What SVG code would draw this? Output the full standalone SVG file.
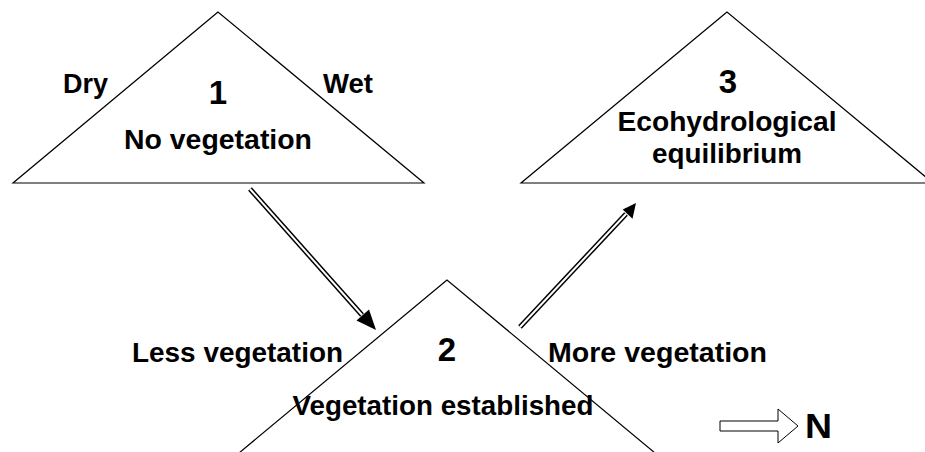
<svg xmlns="http://www.w3.org/2000/svg" width="925" height="452" viewBox="0 0 925 452">
  <style>
    .tri { fill: #fff; stroke: #000; stroke-width: 1.2; stroke-linejoin: miter; }
    .lbl { font-family: "Liberation Sans", Arial, sans-serif; font-weight: bold; font-size: 27px; fill: #000; }
    .num { font-family: "Liberation Sans", Arial, sans-serif; font-weight: bold; font-size: 33px; fill: #000; text-anchor: middle; }
    .mid { text-anchor: middle; }
    .dbl-outer { stroke: #000; stroke-width: 5; fill: none; }
    .dbl-inner { stroke: #fff; stroke-width: 2; fill: none; }
    .head { fill: #000; stroke: none; }
  </style>
  <rect x="0" y="0" width="925" height="452" fill="#fff"/>

  <!-- State 1 -->
  <g id="node-1">
    <polygon class="tri" points="218,12 13,183 424,183"/>
    <text class="num" x="218" y="104">1</text>
    <text class="lbl mid" x="218" y="149" textLength="188" lengthAdjust="spacingAndGlyphs">No vegetation</text>
    <text class="lbl" x="63" y="93" textLength="45" lengthAdjust="spacingAndGlyphs">Dry</text>
    <text class="lbl" x="323" y="93" textLength="50" lengthAdjust="spacingAndGlyphs">Wet</text>
  </g>

  <!-- State 3 -->
  <g id="node-3">
    <polygon class="tri" points="727,12 521,183 933,183"/>
    <text class="num" x="728" y="93">3</text>
    <text class="lbl mid" x="727" y="131" textLength="219" lengthAdjust="spacingAndGlyphs">Ecohydrological</text>
    <text class="lbl mid" x="727" y="163" textLength="150" lengthAdjust="spacingAndGlyphs">equilibrium</text>
  </g>

  <!-- State 2 -->
  <g id="node-2">
    <polygon class="tri" points="447,280 233,458 661,458"/>
    <text class="num" x="447" y="361">2</text>
    <text class="lbl mid" x="443" y="415" textLength="301" lengthAdjust="spacingAndGlyphs">Vegetation established</text>
    <text class="lbl" x="132" y="362" textLength="211" lengthAdjust="spacingAndGlyphs">Less vegetation</text>
    <text class="lbl" x="548" y="362" textLength="219" lengthAdjust="spacingAndGlyphs">More vegetation</text>
  </g>

  <!-- Transitions -->
  <g id="connectors">
    <line class="dbl-outer" x1="250" y1="189" x2="362" y2="315"/>
    <line class="dbl-inner" x1="250" y1="189" x2="362" y2="315"/>
    <polygon class="head" points="376,330 369,309.5 356.5,320.6"/>

    <line class="dbl-outer" x1="520" y1="327" x2="626" y2="214"/>
    <line class="dbl-inner" x1="520" y1="327" x2="626" y2="214"/>
    <polygon class="head" points="636,203 632.5,218.8 622.7,209.6"/>
  </g>

  <!-- North indicator -->
  <g id="north">
    <polygon points="720,421 778,421 778,409 798,426 778,443 778,431 720,431" fill="#fff" stroke="#000" stroke-width="1"/>
    <text x="805" y="438" font-family="Liberation Sans, Arial, sans-serif" font-weight="bold" font-size="35" textLength="27" lengthAdjust="spacingAndGlyphs">N</text>
  </g>
</svg>
